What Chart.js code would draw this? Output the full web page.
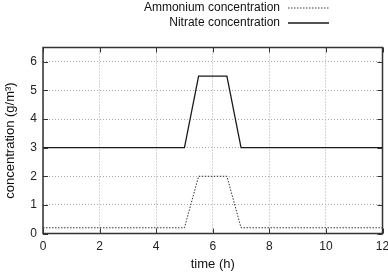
<!DOCTYPE html>
<html>
<head>
    <title>Concentration over time</title>
    <script src="https://cdn.jsdelivr.net/npm/chart.js"></script>
    <style>
        html, body { margin: 0; padding: 0; background: #fff; }
        #wrap { width: 388px; height: 274px; }
    </style>
</head>
<body>
    <div id="wrap"><canvas id="chart"></canvas></div>
    <script>
        // values
        const timeHours = [0, 5, 5.5, 6.5, 7, 12];
        const ammonium = [0.2, 0.2, 2, 2, 0.2, 0.2];
        const nitrate = [3, 3, 5.5, 5.5, 3, 3];
        const xTicks = [0, 2, 4, 6, 8, 10, 12];
        const yTicks = [0, 1, 2, 3, 4, 5, 6];
        const legendLabels = ['Ammonium concentration', 'Nitrate concentration'];

        const FONT = '"Liberation Sans", Arial, sans-serif';

        function toPoints(ys) {
            return timeHours.map((t, i) => ({ x: t, y: ys[i] }));
        }

        // gnuplot-like frame, inward ticks and key in the top right
        const framePlugin = {
            id: 'frame',
            afterDraw(chart) {
                const ctx = chart.ctx;
                const a = chart.chartArea;
                const xs = chart.scales.x, ys = chart.scales.y;
                ctx.save();
                ctx.strokeStyle = '#333';
                ctx.lineWidth = 1;
                ctx.beginPath();
                xTicks.forEach(v => {
                    const px = Math.round(xs.getPixelForValue(v)) + 0.5;
                    ctx.moveTo(px, a.bottom); ctx.lineTo(px, a.bottom - 5);
                    ctx.moveTo(px, a.top); ctx.lineTo(px, a.top + 5);
                });
                yTicks.forEach(v => {
                    const py = Math.round(ys.getPixelForValue(v)) + 0.5;
                    ctx.moveTo(a.left, py); ctx.lineTo(a.left + 5, py);
                    ctx.moveTo(a.right, py); ctx.lineTo(a.right - 5, py);
                });
                ctx.stroke();
                ctx.lineWidth = 1.5;
                ctx.strokeRect(a.left, a.top, a.right - a.left, a.bottom - a.top);

                // key
                ctx.font = '12px ' + FONT;
                ctx.fillStyle = '#111';
                ctx.textAlign = 'right';
                ctx.textBaseline = 'middle';
                const rows = [7.5, 22.5];
                chart.data.datasets.forEach((ds, i) => {
                    ctx.fillText(legendLabels[i], 280, rows[i]);
                    ctx.strokeStyle = ds.borderColor;
                    ctx.lineWidth = ds.borderWidth;
                    ctx.setLineDash(ds.borderDash || []);
                    ctx.beginPath();
                    ctx.moveTo(288, rows[i] + 0.5);
                    ctx.lineTo(329, rows[i] + 0.5);
                    ctx.stroke();
                    ctx.setLineDash([]);
                });
                ctx.restore();
            }
        };

        new Chart(document.getElementById('chart'), {
            type: 'line',
            data: {
                datasets: [
                    {
                        label: legendLabels[0],
                        data: toPoints(ammonium),
                        borderColor: '#333',
                        borderWidth: 1,
                        borderDash: [1.5, 1.5],
                        pointRadius: 0,
                        tension: 0,
                        fill: false
                    },
                    {
                        label: legendLabels[1],
                        data: toPoints(nitrate),
                        borderColor: '#1a1a1a',
                        borderWidth: 1.3,
                        pointRadius: 0,
                        tension: 0,
                        fill: false
                    }
                ]
            },
            options: {
                responsive: true,
                maintainAspectRatio: false,
                animation: false,
                layout: { padding: { top: 47.5, right: 5.5, left: 0, bottom: 0 } },
                plugins: {
                    legend: { display: false },
                    tooltip: { enabled: false }
                },
                scales: {
                    x: {
                        type: 'linear',
                        min: 0,
                        max: 12,
                        afterBuildTicks: s => { s.ticks = xTicks.map(v => ({ value: v })); },
                        afterFit: s => { s.height = 40.5; s.paddingLeft = 0; s.paddingRight = 0; },
                        grid: { color: '#aaa', drawTicks: false },
                        border: { display: false, dash: [1, 2] },
                        ticks: { padding: 6, color: '#222', font: { family: FONT, size: 12 } },
                        title: {
                            display: true,
                            text: 'time (h)',
                            color: '#111',
                            font: { family: FONT, size: 13 },
                            padding: { top: 4, bottom: 2 }
                        }
                    },
                    y: {
                        min: 0,
                        max: 6.5,
                        afterBuildTicks: s => { s.ticks = yTicks.map(v => ({ value: v })); },
                        afterFit: s => { s.width = 43; s.paddingTop = 0; s.paddingBottom = 0; },
                        grid: { color: '#aaa', drawTicks: false },
                        border: { display: false, dash: [1, 2] },
                        ticks: { padding: 6, color: '#222', font: { family: FONT, size: 12 } },
                        title: {
                            display: true,
                            text: 'concentration (g/m³)',
                            color: '#111',
                            font: { family: FONT, size: 13 },
                            padding: { top: 3, bottom: 0 }
                        }
                    }
                }
            },
            plugins: [framePlugin]
        });
    </script>
</body>
</html>
